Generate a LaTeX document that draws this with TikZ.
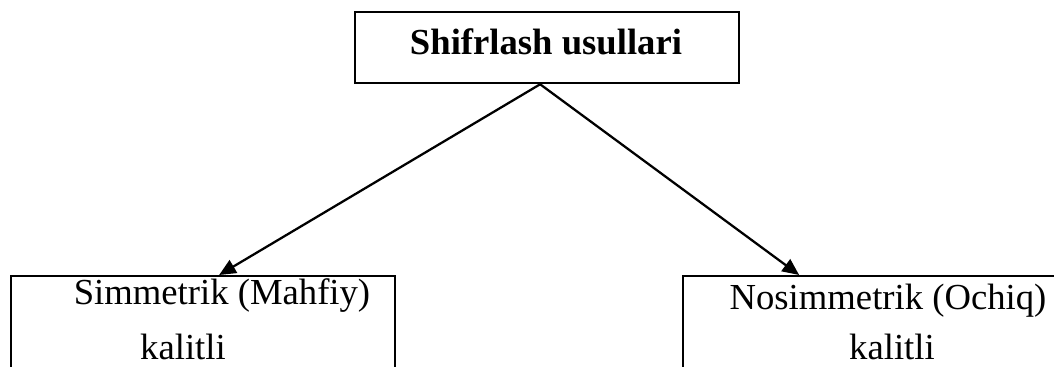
\documentclass[tikz,border=0pt]{standalone}
\usepackage{fontspec}
\setmainfont{Liberation Serif}
\usetikzlibrary{arrows.meta}
\begin{document}
\begin{tikzpicture}[x=0.75pt,y=-0.75pt,
  box/.style={draw,line width=1.7pt,inner sep=0pt,anchor=north west},
  txt/.style={anchor=base,inner sep=0pt,font=\fontsize{27.5}{33}\selectfont},
  conn/.style={line width=1.7pt,-{Triangle[length=12.5pt,width=11pt]}}]
\useasboundingbox (0,0) rectangle (1054,367);
\clip (0,0) rectangle (1054,367);
% boxes
\node[box,minimum width=288pt,minimum height=53.25pt] (title) at (354,11) {};
\node[box,minimum width=288pt,minimum height=90pt] (sym) at (10,275) {};
\node[box,minimum width=312pt,minimum height=90pt] (asym) at (682,275) {};
% texts
\node[txt,font=\fontsize{27.5}{33}\selectfont\bfseries] (titletext) at (546,55) {Shifrlash usullari};
\node[txt] (sym1) at (222,305) {Simmetrik (Mahfiy)};
\node[txt] (sym2) at (183,359) {kalitli};
\node[txt] (asym1) at (888,310) {Nosimmetrik (Ochiq)};
\node[txt] (asym2) at (892,359) {kalitli};
% connectors
\coordinate (apex) at ([xshift=-5.25pt]title.south);
\coordinate (symin) at ([xshift=12pt]sym.north);
\coordinate (asymin) at ([xshift=-69pt]asym.north);
\draw[conn] (apex) -- (symin);
\draw[conn] (apex) -- (asymin);
\end{tikzpicture}
\end{document}
